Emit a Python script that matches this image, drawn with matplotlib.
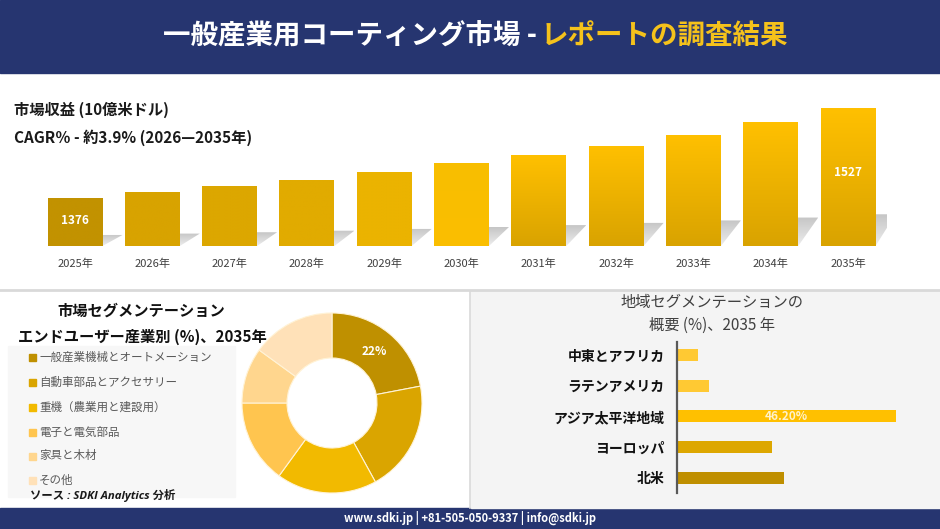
import numpy as np
import matplotlib
matplotlib.use('Agg')
import matplotlib.pyplot as plt
from matplotlib.colors import LinearSegmentedColormap
from matplotlib.patches import Rectangle, Polygon

plt.rcParams['font.family'] = ['Noto Sans CJK JP', 'DejaVu Sans']

# ---------------- data ----------------
years = ['2025年', '2026年', '2027年', '2028年', '2029年', '2030年',
         '2031年', '2032年', '2033年', '2034年', '2035年']
revenue = [1376, 1386, 1396, 1407, 1420, 1434, 1448, 1464, 1482, 1503, 1527]
revenue_shown = [True, False, False, False, False, False, False, False, False, False, True]
bar_top_colors = ['#C29200', '#D8A300', '#DCA700', '#E1AB00', '#EBB300', '#F8BE00',
                  '#FFC000', '#FFC000', '#FFC000', '#FFC000', '#FFC000']
bar_bot_colors = ['#C29200', '#D8A300', '#DCA700', '#E1AB00', '#EBB300', '#FBBF00',
                  '#D9A300', '#D9A300', '#D9A300', '#D9A300', '#D9A300']

seg_labels = ['一般産業機械とオートメーション', '自動車部品とアクセサリー', '重機（農業用と建設用）',
              '電子と電気部品', '家具と木材', 'その他']
seg_values = [22, 20, 18, 15, 10, 15]
seg_colors = ['#BF9000', '#DAA500', '#F2BA00', '#FFC54F', '#FFD68E', '#FFE1B8']

regions = ['中東とアフリカ', 'ラテンアメリカ', 'アジア太平洋地域', 'ヨーロッパ', '北米']
region_values = [4.4, 6.8, 46.2, 20.0, 22.6]
region_colors = ['#FFC933', '#FFC933', '#FFC000', '#DDA700', '#BF8F00']

W, H = 940, 529
fig = plt.figure(figsize=(W / 100, H / 100), dpi=100)


def fax(l, t, w, h):
    return fig.add_axes([l / W, 1 - (t + h) / H, w / W, h / H])


# ---------------- background ----------------
bg = fax(0, 0, W, H)
bg.set_xlim(0, W)
bg.set_ylim(H, 0)
bg.axis('off')
navy = '#263570'
bg.add_patch(Rectangle((0, 0), W, 73, color=navy))
bg.add_patch(Rectangle((0, 508), W, 21, color=navy))
bg.add_patch(Rectangle((471, 291), 469, 217, color='#F4F4F4'))
bg.plot([0, W], [290, 290], color='#D9D9D9', lw=2)
bg.plot([470, 470], [291, 508], color='#D9D9D9', lw=1.2)
bg.add_patch(Rectangle((8, 346), 227, 151, color='#F7F7F7'))

bg.text(537, 37, '一般産業用コーティング市場 -', color='white', fontsize=19.8,
        fontweight='bold', ha='right', va='center')
bg.text(541, 37, 'レポートの調査結果', color='#F5C21B', fontsize=19.8,
        fontweight='bold', ha='left', va='center')

bg.text(14, 110, '市場収益 (10億米ドル)', fontsize=11, fontweight='bold',
        color='#1A1A1A', ha='left', va='center')
bg.text(14, 138, 'CAGR％ - 約3.9% (2026—2035年)', fontsize=11, fontweight='bold',
        color='#1A1A1A', ha='left', va='center')

bg.text(470, 518, 'www.sdki.jp | +81-505-050-9337 | info@sdki.jp', color='white',
        fontsize=8, fontweight='bold', ha='center', va='center')

# bottom-left texts
bg.text(141, 311, '市場セグメンテーション', fontsize=11, fontweight='bold',
        color='#111111', ha='center', va='center')
bg.text(142, 337, 'エンドユーザー産業別 (%)、2035年', fontsize=11, fontweight='bold',
        color='#111111', ha='center', va='center')
leg_y = [357, 382, 407, 432, 456, 480]
for lab, col, yy in zip(seg_labels, seg_colors, leg_y):
    bg.add_patch(Rectangle((29, yy - 3.5), 7, 7, color=col))
    bg.text(39, yy, lab, fontsize=8.3, color='#595959', ha='left', va='center')
bg.text(30, 496, 'ソース : SDKI Analytics 分析', fontsize=8.2, style='italic',
        fontweight='bold', color='#1A1A1A', ha='left', va='center',
        family=['Open Sans', 'Noto Sans CJK JP'])

# bottom-right title
bg.text(712, 303, '地域セグメンテーションの', fontsize=11, color='#404040',
        ha='center', va='center')
bg.text(712, 325, '概要 (%)、2035 年', fontsize=11, color='#404040',
        ha='center', va='center')

# ---------------- top bar chart ----------------
base_px, top_px = 246, 100
left_px, right_px = 30, 887
step_px = 77.3
k = 0.596              # px per unit
ybot = 1295.5
ax = fax(left_px, top_px, right_px - left_px, base_px - top_px)
ax.patch.set_alpha(0)
xs = np.arange(len(revenue))
bw = 55 / step_px
bars = ax.bar(xs, np.array(revenue) - ybot, bottom=ybot, width=bw,
              color='none', zorder=3)
# shadows
dx = 20 / step_px
for x, v in zip(xs, revenue):
    h = v - ybot
    hs = 0.23 * h
    x0, x1 = x - bw / 2, x + bw / 2
    poly = Polygon([(x0, ybot), (x1, ybot), (x1 + dx, ybot + hs), (x0 + dx, ybot + hs)],
                   closed=True, facecolor='none', edgecolor='none')
    ax.add_patch(poly)
    grad = np.linspace(0, 1, 50).reshape(-1, 1)
    cm = LinearSegmentedColormap.from_list('sh', ['#EDEDED', '#C6C6C6'])
    im = ax.imshow(grad, extent=[x0, x1 + dx, ybot, ybot + hs], origin='lower',
                   aspect='auto', cmap=cm, zorder=1, interpolation='bilinear')
    im.set_clip_path(poly)
# bar gradients
for rect, ct, cb in zip(bars, bar_top_colors, bar_bot_colors):
    x0 = rect.get_x()
    x1 = x0 + rect.get_width()
    y0 = rect.get_y()
    y1 = y0 + rect.get_height()
    cm = LinearSegmentedColormap.from_list('bg', [cb, ct])
    grad = np.linspace(0, 1, 100).reshape(-1, 1)
    im = ax.imshow(grad, extent=[x0, x1, y0, y1], origin='lower', aspect='auto',
                   cmap=cm, zorder=2, interpolation='bilinear')
    im.set_clip_path(rect)
for x, v, show in zip(xs, revenue, revenue_shown):
    if show:
        ax.text(x, ybot + 0.53 * (v - ybot), str(v), color='white', fontsize=8.5,
                fontweight='bold', ha='center', va='center', zorder=5)
ax.set_xlim(-(75 - left_px) / step_px, 10 + (right_px - 848) / step_px)
ax.set_ylim(ybot, ybot + (base_px - top_px) / k)
ax.set_xticks(xs)
ax.set_xticklabels(years, fontsize=8, color='#404040')
ax.tick_params(axis='x', length=0, pad=9)
ax.set_yticks([])
for s in ax.spines.values():
    s.set_visible(False)

# ---------------- donut ----------------
cx, cy, R = 332, 403, 90
ax2 = fax(cx - R, cy - R, 2 * R, 2 * R)
ax2.patch.set_alpha(0)
ax2.pie(seg_values, colors=seg_colors, startangle=90, counterclock=False, radius=1,
        wedgeprops=dict(width=0.5, edgecolor='#FFF3D6', linewidth=0.8))
ax2.set_xlim(-1, 1)
ax2.set_ylim(-1, 1)
ang = np.deg2rad(90 - 360 * seg_values[0] / sum(seg_values) / 2)
ax2.text(0.74 * np.cos(ang), 0.74 * np.sin(ang), f'{seg_values[0]}%', color='white',
         fontsize=8.5, fontweight='bold', ha='center', va='center')

# ---------------- horizontal bars ----------------
hx0, hx1, hy0, hy1 = 677, 920, 342, 493
pxper = 219 / 46.2
ax3 = fax(hx0, hy0, hx1 - hx0, hy1 - hy0)
ax3.patch.set_alpha(0)
ys = np.arange(len(regions))
ax3.barh(ys, region_values, height=0.39, color=region_colors)
ax3.set_xlim(0, (hx1 - hx0) / pxper)
ax3.set_ylim(4.49, -0.42)
ax3.set_yticks(ys)
ax3.set_yticklabels(regions, fontsize=10, fontweight='bold', color='#111111')
ax3.tick_params(axis='y', length=0, pad=9)
ax3.set_xticks([])
for n, s in ax3.spines.items():
    s.set_visible(n == 'left')
ax3.spines['left'].set_color('#595959')
ax3.spines['left'].set_linewidth(1.6)
imax = int(np.argmax(region_values))
ax3.text(region_values[imax] / 2, imax, f'{region_values[imax]:.2f}%', color='#FFF2CC',
         fontsize=8.5, fontweight='bold', ha='center', va='center')

fig.savefig('out.png', dpi=100)
